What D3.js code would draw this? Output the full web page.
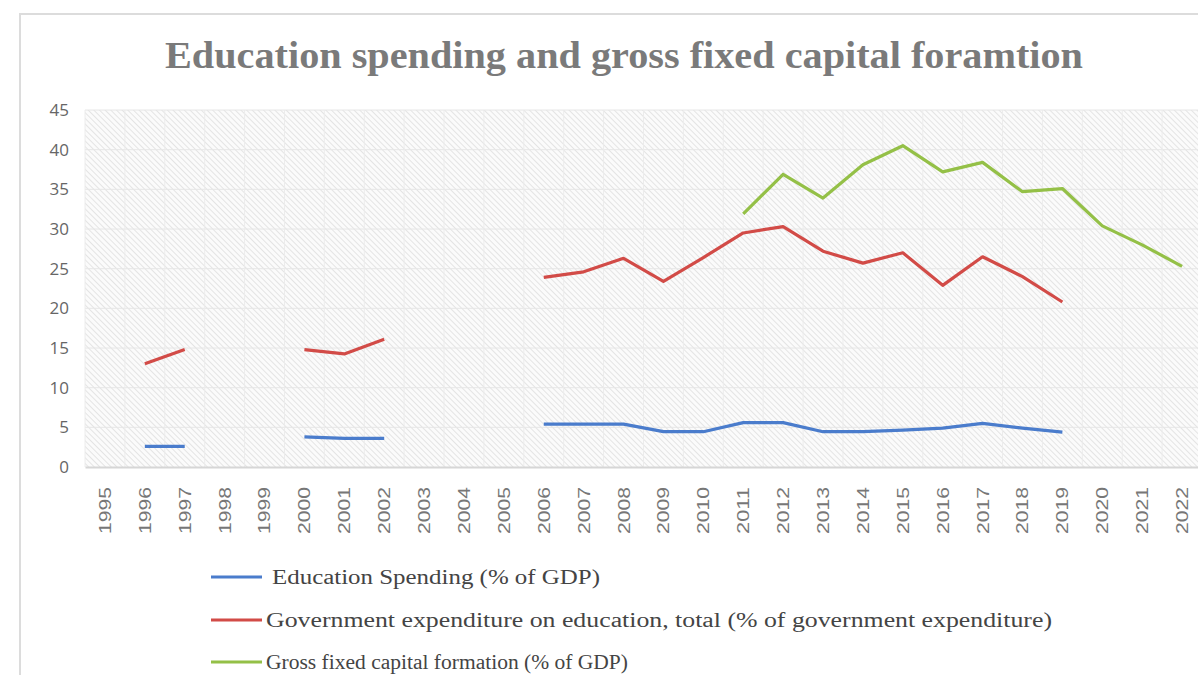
<!DOCTYPE html>
<html>
<head>
<meta charset="utf-8">
<script src="https://cdn.jsdelivr.net/npm/d3@7/dist/d3.min.js"></script>
<style>
  html, body { margin: 0; padding: 0; background: #ffffff; }
  svg { display: block; }
</style>
</head>
<body>
<div id="chart"></div>
<script>
// Years on the category axis
const years = d3.range(1995, 2023).map(String);

// Education spending (% of GDP)
const eduSpending = [null, 2.6, 2.6, null, null, 3.8, 3.6, 3.6, null, null, null,
  5.4, 5.4, 5.4, 4.45, 4.45, 5.6, 5.6, 4.45, 4.45, 4.65, 4.9, 5.5, 4.9, 4.4,
  null, null, null];

// Government expenditure on education, total (% of government expenditure)
const govEduExp = [null, 13.0, 14.8, null, null, 14.8, 14.25, 16.1, null, null, null,
  23.9, 24.6, 26.3, 23.4, 26.4, 29.5, 30.3, 27.2, 25.7, 27.0, 22.9, 26.5, 24.0, 20.8,
  null, null, null];

// Gross fixed capital formation (% of GDP)
const grossFixedCap = [null, null, null, null, null, null, null, null, null, null, null,
  null, null, null, null, null, 31.9, 36.9, 33.9, 38.1, 40.5, 37.2, 38.4, 34.7, 35.1,
  30.4, 28.0, 25.3];

const yTicks = [0, 5, 10, 15, 20, 25, 30, 35, 40, 45];

const seriesNames = [
  "Education Spending (% of GDP)",
  "Government expenditure on education, total (% of government expenditure)",
  "Gross fixed capital formation (% of GDP)"
];
const seriesColors = ["#4a7ccc", "#d24b47", "#94c047"];
const seriesValues = [eduSpending, govEduExp, grossFixedCap];

const W = 1198, H = 675;
const plot = { left: 85, right: 1202, top: 110, bottom: 467 };

const svg = d3.select("#chart").append("svg")
  .attr("width", W).attr("height", H);

// Diagonal hatch used to fill the plot area
const defs = svg.append("defs");
const pat = defs.append("pattern")
  .attr("id", "hatch")
  .attr("patternUnits", "userSpaceOnUse")
  .attr("width", 4).attr("height", 4)
  .attr("patternTransform", "rotate(-45)");
pat.append("rect").attr("width", 4).attr("height", 4).attr("fill", "#fbfbfb");
pat.append("line")
  .attr("x1", 0).attr("y1", 0).attr("x2", 0).attr("y2", 4)
  .attr("stroke", "#dedede").attr("stroke-width", 1.6);

// Outer chart frame
svg.append("rect")
  .attr("x", 20).attr("y", 14)
  .attr("width", W).attr("height", H)
  .attr("fill", "#ffffff")
  .attr("stroke", "#dcdcdc").attr("stroke-width", 2);

// Title
svg.append("text")
  .attr("x", 624).attr("y", 68)
  .attr("text-anchor", "middle")
  .attr("font-family", "'Liberation Serif', 'DejaVu Serif', serif")
  .attr("font-weight", "bold")
  .attr("font-size", 38)
  .attr("textLength", 918)
  .attr("lengthAdjust", "spacingAndGlyphs")
  .attr("fill", "#7a7a7a")
  .text("Education spending and gross fixed capital foramtion");

const x = d3.scaleBand().domain(years).range([plot.left, plot.right]).padding(0);
const y = d3.scaleLinear().domain([0, 45]).range([plot.bottom, plot.top]);

// Plot area background
svg.append("rect")
  .attr("x", plot.left).attr("y", plot.top)
  .attr("width", plot.right - plot.left).attr("height", plot.bottom - plot.top)
  .attr("fill", "url(#hatch)");

// Gridlines
const grid = svg.append("g");
grid.selectAll("line.h").data(yTicks.filter(d => d > 0)).enter().append("line")
  .attr("x1", plot.left).attr("x2", plot.right)
  .attr("y1", d => y(d)).attr("y2", d => y(d))
  .attr("stroke", "#e6e6e6").attr("stroke-width", 1);
grid.selectAll("line.v").data(years).enter().append("line")
  .attr("x1", d => x(d)).attr("x2", d => x(d))
  .attr("y1", plot.top).attr("y2", plot.bottom)
  .attr("stroke", "#ececec").attr("stroke-width", 1);

// Y axis
const yAxis = svg.append("g")
  .attr("transform", `translate(${plot.left},0)`)
  .call(d3.axisLeft(y).tickValues(yTicks).tickSize(0).tickPadding(16));
yAxis.select(".domain").remove();
yAxis.selectAll("text")
  .attr("font-family", "'Open Sans', 'DejaVu Sans', sans-serif")
  .attr("font-size", 17)
  .attr("fill", "#666666");

// X axis
const xAxis = svg.append("g")
  .attr("transform", `translate(0,${plot.bottom})`)
  .call(d3.axisBottom(x).tickSize(0).tickPadding(0));
xAxis.select(".domain")
  .attr("stroke", "#d6d6d6").attr("stroke-width", 2);
xAxis.selectAll("text")
  .attr("font-family", "'Liberation Sans', Arial, sans-serif")
  .attr("font-size", 17)
  .attr("textLength", 47)
  .attr("lengthAdjust", "spacingAndGlyphs")
  .attr("fill", "#777777")
  .attr("text-anchor", "end")
  .attr("dy", "0.35em")
  .attr("transform", "translate(0,20) rotate(-90)")
  .attr("x", 0).attr("y", 0);

// Series lines (gaps where data is missing)
const line = d3.line()
  .defined(d => d.v !== null)
  .x(d => x(d.year) + x.bandwidth() / 2)
  .y(d => y(d.v));

seriesValues.forEach((vals, i) => {
  const pts = years.map((yr, j) => ({ year: yr, v: vals[j] }));
  svg.append("path")
    .datum(pts)
    .attr("d", line)
    .attr("fill", "none")
    .attr("stroke", seriesColors[i])
    .attr("stroke-width", 3.2)
    .attr("stroke-linejoin", "round")
    .attr("stroke-linecap", "butt");
});

// Legend
const legendRows = [
  { y: 577, tx: 272, len: 328 },
  { y: 620, tx: 266, len: 786 },
  { y: 662, tx: 266, len: 362 }
];
const legend = svg.append("g");
legendRows.forEach((r, i) => {
  legend.append("line")
    .attr("x1", 211).attr("x2", 262)
    .attr("y1", r.y).attr("y2", r.y)
    .attr("stroke", seriesColors[i]).attr("stroke-width", 3.2);
  legend.append("text")
    .attr("x", r.tx).attr("y", r.y + 7)
    .attr("font-family", "'Liberation Serif', 'DejaVu Serif', serif")
    .attr("font-size", 20)
    .attr("textLength", r.len)
    .attr("lengthAdjust", "spacingAndGlyphs")
    .attr("fill", "#444444")
    .text(seriesNames[i]);
});
</script>
</body>
</html>
